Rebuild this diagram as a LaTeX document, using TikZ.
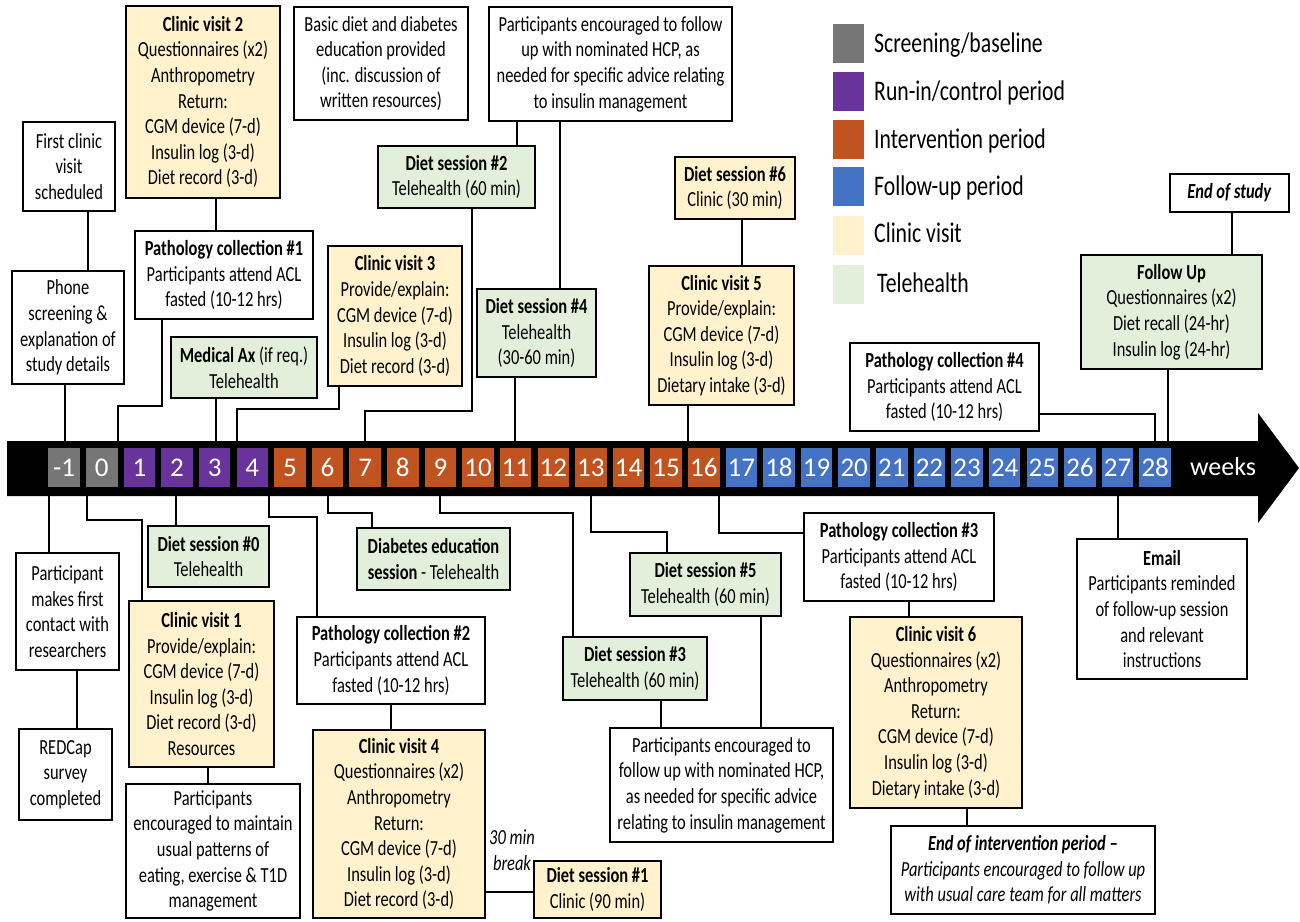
\documentclass[tikz,border=0pt]{standalone}
\usepackage{fontspec}
\setmainfont{Carlito}[FakeStretch=0.765]
\newfontfamily\numfont{Carlito}
\definecolor{cgray}{HTML}{767676}
\definecolor{cpurple}{HTML}{68339A}
\definecolor{corange}{HTML}{C0531F}
\definecolor{cblue}{HTML}{4472C4}
\definecolor{ccream}{HTML}{FFF2CC}
\definecolor{cgreen}{HTML}{E2EFDA}
\newcommand\bx[7]{\node[#2, minimum width={(#5)-(#3)}, minimum height={(#6)-(#4)}] (#1) at ({((#3)+(#5))/2},{((#4)+(#6))/2}) {#7};}
\begin{document}
\begin{tikzpicture}[x=1pt,y=-1pt,
  box/.style={draw=black, line width=2.4pt, inner sep=0pt, align=center, font=\fontsize{21.5}{25.6}\selectfont, fill=white},
  wbox/.style={box},
  cbox/.style={box, fill=ccream},
  gbox/.style={box, fill=cgreen},
  conn/.style={line width=1.9pt, draw=black},
  wk/.style={minimum width=31.5pt, minimum height=39pt, inner sep=0pt, text=white, font=\numfont\fontsize{27}{30}\selectfont},
  legsq/.style={minimum width=31pt, minimum height=39pt, inner sep=0pt},
  legtx/.style={anchor=base west, inner sep=0pt, font=\fontsize{28.4}{30}\selectfont}]
\useasboundingbox (0,0) rectangle (1300,921);
\fill[white] (0,0) rectangle (1300,921);

% timeline bar
\fill[black] (7,441) -- (1258,441) -- (1258,413) -- (1299,468) -- (1258,523) -- (1258,496) -- (7,496) -- cycle;
\coordinate (bt) at (0,441);
\coordinate (bb) at (0,496);
\foreach \w in {-1,0}{\node[wk, fill=cgray] (w\w) at ({64.2+(\w+1)*37.62},467.5) {\w};}
\foreach \w in {1,...,4}{\node[wk, fill=cpurple] (w\w) at ({64.2+(\w+1)*37.62},467.5) {\w};}
\foreach \w in {5,...,16}{\node[wk, fill=corange] (w\w) at ({64.2+(\w+1)*37.62},467.5) {\w};}
\foreach \w in {17,...,28}{\node[wk, fill=cblue] (w\w) at ({64.2+(\w+1)*37.62},467.5) {\w};}
\node[text=white, inner sep=0pt, font=\numfont\fontsize{26}{28}\selectfont] (weeks) at (1223,467) {weeks};

% legend
\node[legsq, fill=cgray]   (l1) at (848.5,43.5) {};
\node[legsq, fill=cpurple] (l2) at (848.5,91.5) {};
\node[legsq, fill=corange] (l3) at (848.5,139) {};
\node[legsq, fill=cblue]   (l4) at (848.5,186.5) {};
\node[legsq, fill=ccream]  (l5) at (848.5,235.5) {};
\node[legsq, fill=cgreen]  (l6) at (848.5,284.5) {};
\node[legtx] (t1) at (874,52) {Screening/baseline};
\node[legtx] (t2) at (874,100) {Run-in/control period};
\node[legtx] (t3) at (874,148) {Intervention period};
\node[legtx] (t4) at (874,195) {Follow-up period};
\node[legtx] (t5) at (874,242) {Clinic visit};
\node[legtx] (t6) at (877,292) {Telehealth};

% upper boxes
\bx{fcv}{wbox}{23}{122}{115}{211}{First clinic\\visit\\scheduled}
\bx{phone}{wbox}{12}{271}{124}{384}{Phone\\screening \&\\explanation of\\study details}
\bx{cv2}{cbox}{126}{6}{280}{198}{\textbf{Clinic visit 2}\\Questionnaires (x2)\\Anthropometry\\Return:\\CGM device (7-d)\\Insulin log (3-d)\\Diet record (3-d)}
\bx{basic}{wbox}{294}{7}{468}{120}{Basic diet and diabetes\\education provided\\(inc. discussion of\\written resources)}
\bx{path1}{wbox}{135}{231}{313}{319}{\textbf{Pathology collection \#1}\\Participants attend ACL\\fasted (10-12 hrs)}
\bx{medax}{gbox}{171}{337}{317}{398}{\textbf{Medical Ax} (if req.)\\Telehealth}
\bx{cv3}{cbox}{328}{246}{462}{386}{\textbf{Clinic visit 3}\\Provide/explain:\\CGM device (7-d)\\Insulin log (3-d)\\Diet record (3-d)}
\bx{hcp1}{wbox}{489}{7}{732}{121}{Participants encouraged to follow\\up with nominated HCP, as\\needed for specific advice relating\\to insulin management}
\bx{ds2}{gbox}{378}{146}{535}{208}{\textbf{Diet session \#2}\\Telehealth (60 min)}
\bx{ds4}{gbox}{477}{289}{596}{377}{\textbf{Diet session \#4}\\Telehealth\\(30-60 min)}
\bx{ds6}{cbox}{675}{157}{795}{219}{\textbf{Diet session \#6}\\Clinic (30 min)}
\bx{cv5}{cbox}{649}{266}{794}{405}{\textbf{Clinic visit 5}\\Provide/explain:\\CGM device (7-d)\\Insulin log (3-d)\\Dietary intake (3-d)}
\bx{path4}{wbox}{850}{343}{1039}{431}{\textbf{Pathology collection \#4}\\Participants attend ACL\\fasted (10-12 hrs)}
\bx{eos}{wbox}{1170}{174}{1289}{212}{\textbf{\textit{End of study}}}
\bx{fu}{gbox}{1081}{255}{1262}{369}{\textbf{Follow Up}\\Questionnaires (x2)\\Diet recall (24-hr)\\Insulin log (24-hr)}

% lower boxes
\bx{pfc}{wbox}{16}{553}{119}{670}{Participant\\makes first\\contact with\\researchers}
\bx{redcap}{wbox}{19}{729}{112}{820}{REDCap\\survey\\completed}
\bx{ds0}{gbox}{148}{526}{269}{587}{\textbf{Diet session \#0}\\Telehealth}
\bx{cv1}{cbox}{129}{601}{274}{767}{\textbf{Clinic visit 1}\\Provide/explain:\\CGM device (7-d)\\Insulin log (3-d)\\Diet record (3-d)\\Resources}
\bx{pme}{wbox}{126}{784}{300}{918}{Participants\\encouraged to maintain\\usual patterns of\\eating, exercise \& T1D\\management}
\bx{dee}{gbox}{357}{528}{510}{590}{\textbf{Diabetes education}\\\textbf{session} - Telehealth}
\bx{path2}{wbox}{297}{617}{485}{704}{\textbf{Pathology collection \#2}\\Participants attend ACL\\fasted (10-12 hrs)}
\bx{cv4}{cbox}{313}{730}{485}{918}{\textbf{Clinic visit 4}\\Questionnaires (x2)\\Anthropometry\\Return:\\CGM device (7-d)\\Insulin log (3-d)\\Diet record (3-d)}
\node[inner sep=0pt, align=center, font=\fontsize{21.5}{25.6}\selectfont\itshape] (brk) at (512,850) {30 min\\break};
\bx{ds1}{cbox}{534}{861}{661}{918}{\textbf{Diet session \#1}\\Clinic (90 min)}
\bx{ds3}{gbox}{563}{637}{707}{700}{\textbf{Diet session \#3}\\Telehealth (60 min)}
\bx{hcp2}{wbox}{610}{728}{833}{842}{Participants encouraged to\\follow up with nominated HCP,\\as needed for specific advice\\relating to insulin management}
\bx{ds5}{gbox}{630}{553}{781}{616}{\textbf{Diet session \#5}\\Telehealth (60 min)}
\bx{path3}{wbox}{804}{513}{994}{601}{\textbf{Pathology collection \#3}\\Participants attend ACL\\fasted (10-12 hrs)}
\bx{cv6}{cbox}{850}{617}{1022}{808}{\textbf{Clinic visit 6}\\Questionnaires (x2)\\Anthropometry\\Return:\\CGM device (7-d)\\Insulin log (3-d)\\Dietary intake (3-d)}
\bx{eoi}{wbox}{891}{826}{1155}{914}{\textbf{\textit{End of intervention period –}}\\\textit{Participants encouraged to follow up}\\\textit{with usual care team for all matters}}
\bx{email}{wbox}{1077}{539}{1247}{679}{\textbf{Email}\\Participants reminded\\of follow-up session\\and relevant\\instructions}

% upper connectors
\draw[conn] (fcv.south -| 88,0) -- (phone.north -| 88,0);
\draw[conn] (phone.south -| 65,0) -- (bt -| 65,0);
\draw[conn] (cv2.south -| 216,0) -- (path1.north -| 216,0);
\draw[conn] (path1.south -| 162,0) -- (162,406) -- (118,406) -- (bt -| 118,0);
\draw[conn] (medax.south -| 216,0) -- (bt -| 216,0);
\draw[conn] (cv3.south -| 339,0) -- (339,409) -- (237,409) -- (bt -| 237,0);
\draw[conn] (hcp1.south -| 517,0) -- (ds2.north -| 517,0);
\draw[conn] (hcp1.south -| 560,0) -- (ds4.north -| 560,0);
\draw[conn] (ds2.south -| 472,0) -- (472,411) -- (365,411) -- (bt -| 365,0);
\draw[conn] (ds4.south -| 515,0) -- (bt -| 515,0);
\draw[conn] (ds6.south -| 742,0) -- (cv5.north -| 742,0);
\draw[conn] (cv5.south -| 688,0) -- (bt -| 688,0);
\draw[conn] (path4.east |- 0,414) -- (1155,414) -- (bt -| 1155,0);
\draw[conn] (eos.south -| 1232,0) -- (fu.north -| 1232,0);
\draw[conn] (fu.south -| 1168,0) -- (bt -| 1168,0);

% lower connectors
\draw[conn] (bb -| 49,0) -- (pfc.north -| 49,0);
\draw[conn] (pfc.south -| 77,0) -- (redcap.north -| 77,0);
\draw[conn] (bb -| 87,0) -- (87,520) -- (142,520) -- (cv1.north -| 142,0);
\draw[conn] (bb -| 176,0) -- (ds0.north -| 176,0);
\draw[conn] (cv1.south -| 208,0) -- (pme.north -| 208,0);
\draw[conn] (bb -| 269,0) -- (269,517) -- (317,517) -- (path2.north -| 317,0);
\draw[conn] (bb -| 328,0) -- (328,513) -- (372,513) -- (dee.north -| 372,0);
\draw[conn] (path2.south -| 391,0) -- (cv4.north -| 391,0);
\draw[conn] (cv4.east |- 0,892) -- (ds1.west |- 0,892);
\draw[conn] (bb -| 440,0) -- (440,513) -- (573,513) -- (ds3.north -| 573,0);
\draw[conn] (ds3.south -| 661,0) -- (hcp2.north -| 661,0);
\draw[conn] (bb -| 591,0) -- (591,532) -- (667,532) -- (ds5.north -| 667,0);
\draw[conn] (ds5.south -| 761,0) -- (hcp2.north -| 761,0);
\draw[conn] (bb -| 719,0) -- (719,533) -- (path3.west |- 0,533);
\draw[conn] (path3.south -| 909,0) -- (cv6.north -| 909,0);
\draw[conn] (cv6.south -| 967,0) -- (eoi.north -| 967,0);
\draw[conn] (bb -| 1118,0) -- (email.north -| 1118,0);
\end{tikzpicture}
\end{document}
